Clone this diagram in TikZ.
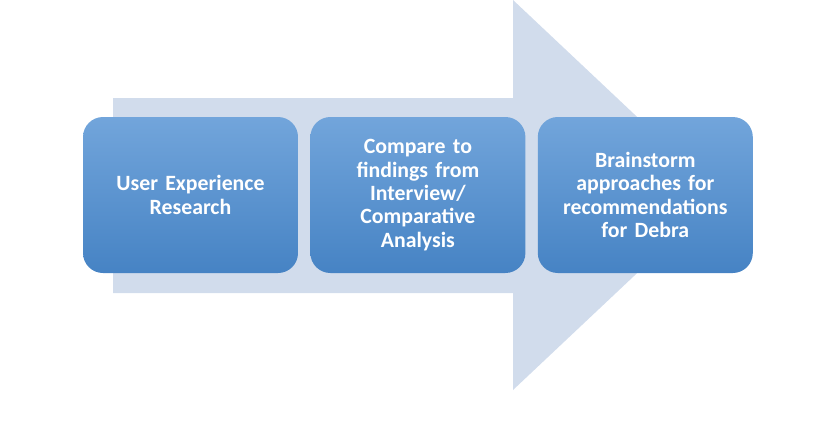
\documentclass[tikz,border=0pt]{standalone}
\usepackage{fontspec}
\setmainfont{Carlito}
\usetikzlibrary{positioning}
\definecolor{arrowfill}{RGB}{209,220,236}
\definecolor{boxtop}{RGB}{114,165,219}
\definecolor{boxbottom}{RGB}{70,131,196}
\tikzset{
  px frame/.style = {x=1pt, y=-1pt},
  step box/.style = {rounded corners=20pt, minimum width=215pt, minimum height=156pt,
    top color=boxtop, bottom color=boxbottom, draw=none, text=white,
    align=center, text width=205pt, font=\bfseries\fontsize{21.8}{23.4}\selectfont},
}

\begin{document}
\begin{tikzpicture}[px frame]

  %% define coordinates
  \useasboundingbox (0,0) rectangle (817,421);
  \coordinate (tail_top) at (113,98);
  \coordinate (tail_bottom) at (113,293);
  \coordinate (head_top) at (513,0);
  \coordinate (head_bottom) at (513,390);
  \coordinate (tip) at (720,195);

  % draw big arrow
  \fill[arrowfill] (tail_top) -- (513,98) -- (head_top) -- (tip)
    -- (head_bottom) -- (513,293) -- (tail_bottom) -- cycle;

  % draw the three steps
  \node[step box] (ux) at (190.5,195) {User Experience\\Research};
  \node[step box, right=12pt of ux] (compare) {Compare to\\findings from\\Interview/\\Comparative\\Analysis};
  \node[step box, right=12pt of compare] (brainstorm) {Brainstorm\\approaches for\\recommendations\\for Debra};
\end{tikzpicture}
\end{document}
